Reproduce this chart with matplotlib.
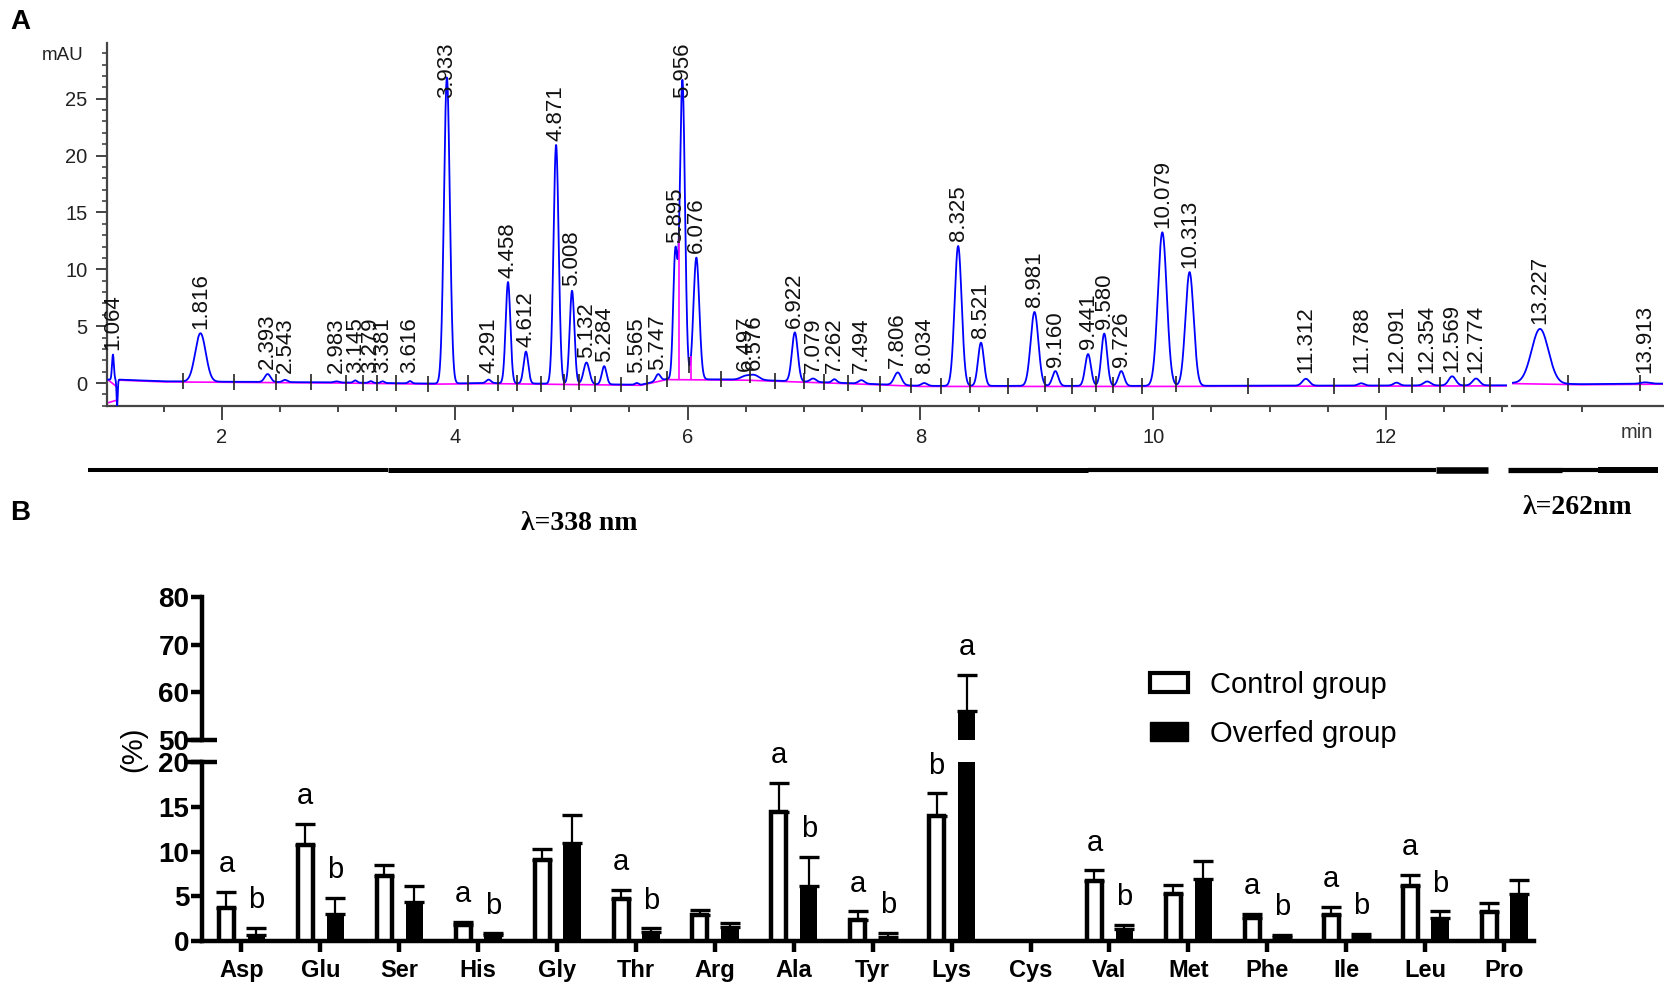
import numpy as np
import matplotlib
matplotlib.use("Agg")
import matplotlib.pyplot as plt
from matplotlib.lines import Line2D
from matplotlib.patches import Patch

plt.rcParams["font.family"] = ["Liberation Sans", "DejaVu Sans"]

# ---- chromatogram peak table (lambda = 338 nm part) ----
peak_times = [1.064, 1.816, 2.393, 2.543, 2.983, 3.145, 3.279, 3.381, 3.616, 3.933,
              4.291, 4.458, 4.612, 4.871, 5.008, 5.132, 5.284, 5.565, 5.747, 5.895,
              5.956, 6.076, 6.497, 6.576, 6.922, 7.079, 7.262, 7.494, 7.806, 8.034,
              8.325, 8.521, 8.981, 9.160, 9.441, 9.580, 9.726, 10.079, 10.313, 11.312,
              11.788, 12.091, 12.354, 12.569, 12.774]
peak_heights = [2.2, 4.25, 0.7, 0.2, 0.1, 0.2, 0.15, 0.15, 0.2, 26.9,
                0.3, 8.9, 2.8, 21.0, 8.2, 1.9, 1.6, 0.15, 0.6, 11.0,
                26.3, 10.7, 0.3, 0.4, 4.3, 0.3, 0.3, 0.3, 1.1, 0.25,
                12.3, 3.8, 6.5, 1.3, 2.8, 4.6, 1.3, 13.5, 10.0, 0.6,
                0.2, 0.25, 0.35, 0.8, 0.6]
peak_widths = [0.008, 0.045, 0.025, 0.02, 0.02, 0.015, 0.015, 0.015, 0.015, 0.025,
               0.02, 0.02, 0.02, 0.022, 0.02, 0.025, 0.02, 0.015, 0.02, 0.018,
               0.022, 0.025, 0.04, 0.04, 0.025, 0.025, 0.02, 0.025, 0.03, 0.025,
               0.03, 0.025, 0.033, 0.025, 0.025, 0.025, 0.025, 0.038, 0.035, 0.03,
               0.025, 0.025, 0.03, 0.03, 0.03]
dip_time, dip_depth = 1.1, -2.3

# baseline anchors (min, mAU)
base_t = [1.013, 1.12, 1.5, 3.0, 3.8, 4.3, 5.6, 5.82, 6.5, 7.5, 8.0, 10.0, 13.04]
base_v = [0.3, 0.3, 0.15, 0.05, -0.05, 0.0, -0.15, 0.35, 0.3, -0.05, -0.25, -0.25, -0.2]
valley_times = [4.94, 5.07, 5.2, 5.925, 6.03]

# ---- lambda = 262 nm part ----
peak_times_r = [13.227, 13.913]
peak_heights_r = [4.8, 0.12]
peak_widths_r = [0.055, 0.03]
base_t_r = [13.044, 13.5, 14.03]
base_v_r = [0.0, -0.1, -0.05]

# ---- amino acid composition ----
amino_acids = ["Asp", "Glu", "Ser", "His", "Gly", "Thr", "Arg", "Ala", "Tyr",
               "Lys", "Cys", "Val", "Met", "Phe", "Ile", "Leu", "Pro"]
control = [3.7, 10.7, 7.3, 1.8, 9.1, 4.7, 2.9, 14.4, 2.3, 14.0, 0, 6.7, 5.3, 2.6, 2.9, 6.1, 3.2]
control_sd = [1.8, 2.4, 1.2, 0.3, 1.2, 1.0, 0.6, 3.3, 1.0, 2.5, 0, 1.2, 1.0, 0.4, 0.9, 1.3, 1.0]
overfed = [0.7, 3.0, 4.4, 0.7, 10.9, 1.0, 1.6, 6.1, 0.5, 56.0, 0, 1.3, 6.9, 0.5, 0.4, 2.6, 5.3]
overfed_sd = [0.8, 1.8, 1.7, 0.15, 3.2, 0.4, 0.4, 3.3, 0.4, 7.7, 0, 0.5, 2.0, 0.2, 0.4, 0.7, 1.5]
control_letters = ["a", "a", "", "a", "", "a", "", "a", "a", "b", "", "a", "", "a", "a", "a", ""]
overfed_letters = ["b", "b", "", "b", "", "b", "", "b", "b", "a", "", "b", "", "b", "b", "b", ""]

W, H = 1665, 999
fig = plt.figure(figsize=(W / 100, H / 100), dpi=100)


def fx(px):
    return px / W


def fy(py):
    return 1 - py / H


def trace(t, times, heights, widths, bt, bv):
    y = np.interp(t, bt, bv)
    for p, h, s in zip(times, heights, widths):
        y = y + h * np.exp(-0.5 * ((t - p) / s) ** 2)
    return y


blue = "#0000ff"
pink = "#ff00ff"
axis_col = "#444444"
chrom_font = 14.5
label_font = 16
ytop = 29.9
label_len = 2.5 * label_font * 1.389 / 11.36  # label length in mAU


def peak_label(ax, p, top):
    # labels that would run past the top of the frame are pushed down inside it
    if top + 0.4 + label_len > ytop:
        ax.text(p, ytop, f"{p:.3f}", rotation=90, ha="center", va="top",
                fontsize=label_font, color="#111111", clip_on=False)
    else:
        ax.text(p, max(top + 0.4, 0.9), f"{p:.3f}", rotation=90, ha="center", va="bottom",
                fontsize=label_font, color="#111111", clip_on=False)


# ---------- panel A: left (338 nm) ----------
axc = fig.add_axes([fx(107), fy(406), fx(1507 - 107), (406 - 43) / H])
t = np.linspace(1.013, 13.04, 9000)
sig = trace(t, peak_times, peak_heights, peak_widths, base_t, base_v)
sig = sig + dip_depth * np.exp(-0.5 * ((t - dip_time) / 0.005) ** 2)
axc.plot(t, sig, color=blue, lw=1.3, zorder=3)
axc.plot(base_t[1:], np.array(base_v[1:]) - 0.05, color=pink, lw=1.2, zorder=2)
axc.plot([1.013, 1.1], [0.35, -0.35], color=pink, lw=1.2)
axc.plot([1.013, 1.1], [-1.76, -1.5], color=pink, lw=1.2)
base_at_valley = np.interp(valley_times, base_t, base_v) - 0.05
axc.vlines(valley_times, base_at_valley, np.interp(valley_times, t, sig), color=pink, lw=1.2, zorder=4)

# integration markers between peaks
bounds = [peak_times[1] - 0.15] + [(a + b) / 2 for a, b in zip(peak_times[1:-1], peak_times[2:])] + [peak_times[-1] + 0.12]
bb = np.interp(bounds, t, sig)
axc.vlines(bounds, bb - 0.7, bb + 0.7, color="#222222", lw=1.2, zorder=4)

for p in peak_times:
    peak_label(axc, p, np.interp(p, t, sig))

axc.set_xlim(1.013, 13.04)
axc.set_ylim(-2.02, ytop)
axc.spines["top"].set_visible(False)
axc.spines["right"].set_visible(False)
for s in ("left", "bottom"):
    axc.spines[s].set_linewidth(1.6)
    axc.spines[s].set_color(axis_col)
axc.set_yticks([0, 5, 10, 15, 20, 25])
axc.set_yticks(np.arange(-2, 30, 1), minor=True)
axc.set_xticks([2, 4, 6, 8, 10, 12])
axc.set_xticks(np.arange(1.5, 13.01, 0.5), minor=True)
axc.tick_params(axis="both", which="major", labelsize=chrom_font, color=axis_col, width=1.4,
                labelcolor="#222222")
axc.tick_params(axis="y", which="major", length=8, pad=6)
axc.tick_params(axis="y", which="minor", length=3.8, width=1.2, color=axis_col)
axc.tick_params(axis="x", which="major", length=10, pad=6)
axc.tick_params(axis="x", which="minor", length=4.5, width=1.4, color=axis_col)

# ---------- panel A: right (262 nm) ----------
axr = fig.add_axes([fx(1512), fy(406), fx(1663 - 1512), (406 - 43) / H])
tr = np.linspace(13.044, 14.03, 1500)
sig_r = trace(tr, peak_times_r, peak_heights_r, peak_widths_r, base_t_r, base_v_r)
axr.plot(tr, sig_r, color=blue, lw=1.3, zorder=3)
axr.plot(base_t_r, np.array(base_v_r) - 0.05, color=pink, lw=1.2, zorder=2)
for p in peak_times_r:
    peak_label(axr, p, np.interp(p, tr, sig_r))
axr.vlines([13.41, 13.88], -0.7, 0.7, color="#222222", lw=1.2)
axr.set_xlim(13.044, 14.03)
axr.set_ylim(-2.02, ytop)
for s in ("top", "right", "left"):
    axr.spines[s].set_visible(False)
axr.spines["bottom"].set_linewidth(1.6)
axr.spines["bottom"].set_color(axis_col)
axr.set_yticks([])
axr.set_xticks([13.5])
axr.set_xticklabels([])
axr.tick_params(axis="x", length=4.5, width=1.4, color=axis_col)

fig.text(fx(1637), fy(433), "min", fontsize=chrom_font, ha="center", va="center", color="#333333")
fig.text(fx(63), fy(56), "mAU", fontsize=13.5, ha="center", va="center", color="#222222")
fig.text(fx(20), fy(22), "A", fontsize=20, fontweight="bold", ha="center", va="center")
fig.text(fx(20), fy(513), "B", fontsize=20, fontweight="bold", ha="center", va="center")

# wavelength bars
bar_y = fy(470)
segs = [(88, 388, 2.9), (388, 1088, 3.6), (1088, 1436, 3.0), (1436, 1488, 4.7),
        (1508, 1562, 3.8), (1562, 1598, 3.0), (1598, 1658, 4.3)]
for x0, x1, lw in segs:
    fig.add_artist(Line2D([fx(x0), fx(x1)], [bar_y, bar_y], color="black", lw=lw,
                          solid_capstyle="butt"))
serif = ["Liberation Serif", "DejaVu Serif"]
fig.text(fx(579), fy(524), "λ=338 nm", family=serif, fontweight="bold", fontsize=20, ha="center", va="center")
fig.text(fx(1577), fy(507), "λ=262nm", family=serif, fontweight="bold", fontsize=20, ha="center", va="center")

# ---------- panel B: broken-axis bar chart ----------
ax_lo = fig.add_axes([fx(202), fy(941), fx(1534 - 202), (941 - 762) / H])
ax_hi = fig.add_axes([fx(202), fy(740), fx(1534 - 202), (740 - 597) / H], sharex=ax_lo)

x = np.arange(len(amino_acids))
off = 0.19
c_mask = np.array(control) > 0
o_mask = np.array(overfed) > 0
for ax in (ax_lo, ax_hi):
    ax.bar(x[c_mask] - off, np.array(control)[c_mask], width=0.19, facecolor="white",
           edgecolor="black", linewidth=3.2, zorder=3)
    ax.bar(x[o_mask] + off, np.array(overfed)[o_mask], width=0.22, color="black", zorder=3)
    ax.errorbar(x[c_mask] - off, np.array(control)[c_mask],
                yerr=[np.zeros(c_mask.sum()), np.array(control_sd)[c_mask]],
                fmt="none", ecolor="black", elinewidth=1.6, capsize=7, capthick=2.4, zorder=2)
    ax.errorbar(x[o_mask] + off, np.array(overfed)[o_mask],
                yerr=[np.zeros(o_mask.sum()), np.array(overfed_sd)[o_mask]],
                fmt="none", ecolor="black", elinewidth=1.6, capsize=7, capthick=2.4, zorder=2)

ax_lo.set_ylim(0, 20)
ax_hi.set_ylim(50, 80)
ax_lo.set_xlim(-0.5, 16.38)
ax_lo.set_yticks([0, 5, 10, 15, 20])
ax_hi.set_yticks([50, 60, 70, 80])
ax_lo.set_xticks(x)
ax_lo.set_xticklabels(amino_acids)

for ax in (ax_lo, ax_hi):
    ax.spines["top"].set_visible(False)
    ax.spines["right"].set_visible(False)
    ax.spines["left"].set_linewidth(3.2)
    ax.tick_params(axis="y", length=8, width=3.2, labelsize=20, pad=1)
    for lab in ax.get_yticklabels():
        lab.set_fontweight("bold")
ax_lo.spines["bottom"].set_linewidth(3.2)
ax_lo.tick_params(axis="x", length=8, width=3.2, labelsize=17, pad=5)
for lab in ax_lo.get_xticklabels():
    lab.set_fontweight("bold")
ax_hi.spines["bottom"].set_visible(False)
ax_hi.tick_params(axis="x", bottom=False, labelbottom=False)

# break caps
for ax, yv in ((ax_hi, 50), (ax_lo, 20)):
    ax.plot([-0.011, 0.011], [yv, yv], color="black", lw=3.2, solid_capstyle="butt",
            transform=ax.get_yaxis_transform(), clip_on=False)

# significance letters
for i in range(len(amino_acids)):
    for letters, vals, sds, dx in ((control_letters, control, control_sd, -off),
                                   (overfed_letters, overfed, overfed_sd, off)):
        if letters[i]:
            top = vals[i] + sds[i]
            ax = ax_hi if top > 20 else ax_lo
            ax.annotate(letters[i], (x[i] + dx, top), xytext=(0, 20), textcoords="offset points",
                        ha="center", va="center", fontsize=21, annotation_clip=False)

fig.text(fx(133), fy(749), "(%)", rotation=90, fontsize=21, ha="center", va="center")

handles = [Patch(facecolor="white", edgecolor="black", linewidth=3),
           Patch(facecolor="black", edgecolor="black")]
fig.legend(handles, ["Control group", "Overfed group"], loc="upper left",
           bbox_to_anchor=(fx(1150), fy(671)), frameon=False, fontsize=21,
           handlelength=1.3, handleheight=0.65, handletextpad=0.75, labelspacing=0.72,
           borderpad=0, borderaxespad=0)

fig.savefig("out.png", dpi=100)
